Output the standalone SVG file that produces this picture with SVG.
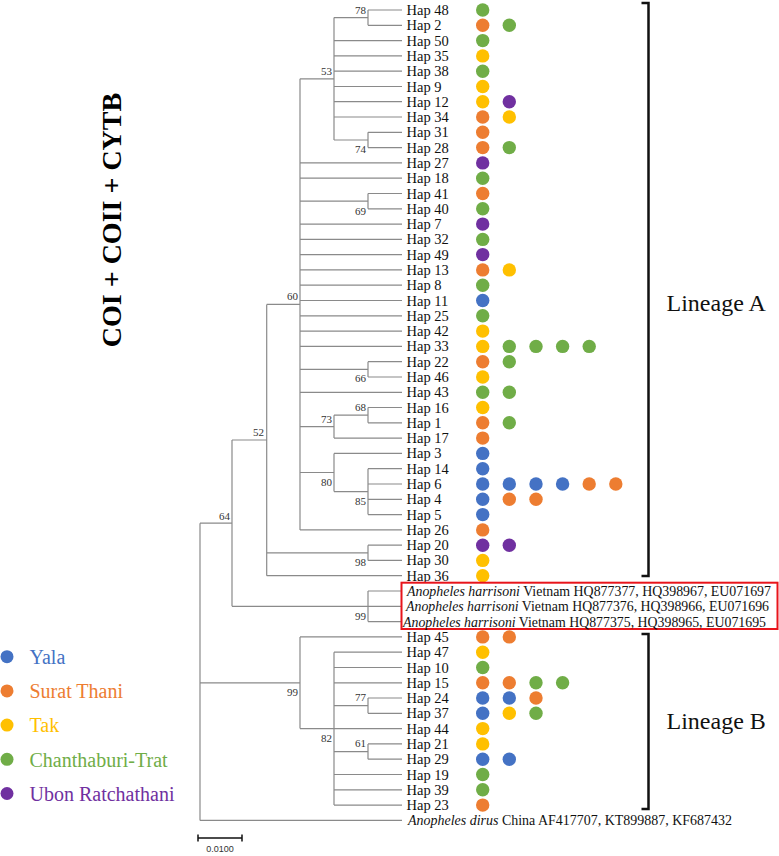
<svg xmlns="http://www.w3.org/2000/svg" width="779" height="856" viewBox="0 0 779 856">
<style>
.br{fill:none;stroke:#8a8a8a;stroke-width:1.2}
.t{font-family:"Liberation Serif","Times New Roman",serif;font-size:14.5px;fill:#111}
.i{font-style:italic}
.bs{font-family:"Liberation Serif","Times New Roman",serif;font-size:11px;fill:#333;text-anchor:end}
.Y{fill:#4472C4}.S{fill:#ED7D31}.T{fill:#FFC000}.C{fill:#70AD47}.U{fill:#7030A0}
.lg{font-family:"Liberation Serif","Times New Roman",serif;font-size:20px}
.bk{fill:none;stroke:#111;stroke-width:2.5}
.ln{font-family:"Liberation Serif","Times New Roman",serif;font-size:24px;fill:#111}
</style>
<rect width="779" height="856" fill="#fff"/>
<text transform="translate(121,220) rotate(-90)" text-anchor="middle" style="font-family:'Liberation Serif','Times New Roman',serif;font-size:28px;font-weight:bold;fill:#000">COI + COII + CYTB</text>
<g id="connectors">
<path class="br" d="M368,10V25.3M368,10H402M368,25.3H402M334,17.6H368
M334,17.6V140M334,40.6H402M334,55.9H402M334,71.2H402M334,86.5H402M334,101.7H402M334,117H402
M368,132.3V147.6M368,132.3H402M368,147.6H402M334,140H368
M300,78.8H334M300,78.8V529.9
M300,162.9H402M300,178.2H402M300,224.1H402M300,239.4H402M300,254.6H402M300,269.9H402M300,285.2H402M300,300.5H402M300,315.8H402M300,331.1H402M300,346.4H402M300,392.3H402M300,529.9H402
M368,193.5V208.8M368,193.5H402M368,208.8H402M300,201.1H368
M368,361.7V377M368,361.7H402M368,377H402M300,369.3H368
M368,407.5V422.8M368,407.5H402M368,422.8H402M334,415.2H368
M334,415.2V438.1M334,438.1H402M300,426.7H334
M368,468.7V514.6M368,468.7H402M368,484H402M368,499.3H402M368,514.6H402M334,491.6H368
M334,453.4V491.6M334,453.4H402M300,472.5H334
M266.7,304.4H300
M368,545.2V560.4M368,545.2H402M368,560.4H402M266.7,552.8H368
M266.7,575.7H402M266.7,304.4V575.7M232,440H266.7
M368,591V621.6M368,591H402M368,606.3H402M368,621.6H402M232,606.3H368
M232,440V606.3M200,523.2H232
M368,698V713.3M368,698H402M368,713.3H402M334,705.7H368
M368,743.9V759.2M368,743.9H402M368,759.2H402M334,751.6H368
M334,652.2V805.1M334,652.2H402M334,667.5H402M334,682.8H402M334,774.5H402M334,789.8H402M334,805.1H402
M300,728.6H402M300,636.9H402M300,636.9V728.6M200,682.8H300
M200,523.2V820.4M200,820.4H402"/>
</g>
<g id="bootstrap">
<text class="bs" x="366" y="14">78</text>
<text class="bs" x="332" y="75">53</text>
<text class="bs" x="366" y="153">74</text>
<text class="bs" x="366" y="215">69</text>
<text class="bs" x="298" y="300">60</text>
<text class="bs" x="366" y="382">66</text>
<text class="bs" x="366" y="411">68</text>
<text class="bs" x="332" y="423">73</text>
<text class="bs" x="332" y="486">80</text>
<text class="bs" x="366" y="505">85</text>
<text class="bs" x="264" y="436">52</text>
<text class="bs" x="230" y="520">64</text>
<text class="bs" x="366" y="566">98</text>
<text class="bs" x="366" y="620">99</text>
<text class="bs" x="298" y="696">99</text>
<text class="bs" x="366" y="701">77</text>
<text class="bs" x="332" y="742">82</text>
<text class="bs" x="366" y="747">61</text>
</g>
<g id="hap48"><text class="t" x="406.5" y="15">Hap 48</text><circle class="C" cx="482.7" cy="10" r="6.7"/></g>
<g id="hap2"><text class="t" x="406.5" y="30.3">Hap 2</text><circle class="S" cx="482.7" cy="25.3" r="6.7"/><circle class="C" cx="509.3" cy="25.3" r="6.7"/></g>
<g id="hap50"><text class="t" x="406.5" y="45.6">Hap 50</text><circle class="C" cx="482.7" cy="40.6" r="6.7"/></g>
<g id="hap35"><text class="t" x="406.5" y="60.9">Hap 35</text><circle class="T" cx="482.7" cy="55.9" r="6.7"/></g>
<g id="hap38"><text class="t" x="406.5" y="76.2">Hap 38</text><circle class="C" cx="482.7" cy="71.2" r="6.7"/></g>
<g id="hap9"><text class="t" x="406.5" y="91.5">Hap 9</text><circle class="T" cx="482.7" cy="86.5" r="6.7"/></g>
<g id="hap12"><text class="t" x="406.5" y="106.7">Hap 12</text><circle class="T" cx="482.7" cy="101.7" r="6.7"/><circle class="U" cx="509.3" cy="101.7" r="6.7"/></g>
<g id="hap34"><text class="t" x="406.5" y="122">Hap 34</text><circle class="S" cx="482.7" cy="117" r="6.7"/><circle class="T" cx="509.3" cy="117" r="6.7"/></g>
<g id="hap31"><text class="t" x="406.5" y="137.3">Hap 31</text><circle class="S" cx="482.7" cy="132.3" r="6.7"/></g>
<g id="hap28"><text class="t" x="406.5" y="152.6">Hap 28</text><circle class="S" cx="482.7" cy="147.6" r="6.7"/><circle class="C" cx="509.3" cy="147.6" r="6.7"/></g>
<g id="hap27"><text class="t" x="406.5" y="167.9">Hap 27</text><circle class="U" cx="482.7" cy="162.9" r="6.7"/></g>
<g id="hap18"><text class="t" x="406.5" y="183.2">Hap 18</text><circle class="C" cx="482.7" cy="178.2" r="6.7"/></g>
<g id="hap41"><text class="t" x="406.5" y="198.5">Hap 41</text><circle class="S" cx="482.7" cy="193.5" r="6.7"/></g>
<g id="hap40"><text class="t" x="406.5" y="213.8">Hap 40</text><circle class="C" cx="482.7" cy="208.8" r="6.7"/></g>
<g id="hap7"><text class="t" x="406.5" y="229.1">Hap 7</text><circle class="U" cx="482.7" cy="224.1" r="6.7"/></g>
<g id="hap32"><text class="t" x="406.5" y="244.4">Hap 32</text><circle class="C" cx="482.7" cy="239.4" r="6.7"/></g>
<g id="hap49"><text class="t" x="406.5" y="259.6">Hap 49</text><circle class="U" cx="482.7" cy="254.6" r="6.7"/></g>
<g id="hap13"><text class="t" x="406.5" y="274.9">Hap 13</text><circle class="S" cx="482.7" cy="269.9" r="6.7"/><circle class="T" cx="509.3" cy="269.9" r="6.7"/></g>
<g id="hap8"><text class="t" x="406.5" y="290.2">Hap 8</text><circle class="C" cx="482.7" cy="285.2" r="6.7"/></g>
<g id="hap11"><text class="t" x="406.5" y="305.5">Hap 11</text><circle class="Y" cx="482.7" cy="300.5" r="6.7"/></g>
<g id="hap25"><text class="t" x="406.5" y="320.8">Hap 25</text><circle class="C" cx="482.7" cy="315.8" r="6.7"/></g>
<g id="hap42"><text class="t" x="406.5" y="336.1">Hap 42</text><circle class="T" cx="482.7" cy="331.1" r="6.7"/></g>
<g id="hap33"><text class="t" x="406.5" y="351.4">Hap 33</text><circle class="T" cx="482.7" cy="346.4" r="6.7"/><circle class="C" cx="509.3" cy="346.4" r="6.7"/><circle class="C" cx="536" cy="346.4" r="6.7"/><circle class="C" cx="562.6" cy="346.4" r="6.7"/><circle class="C" cx="589.2" cy="346.4" r="6.7"/></g>
<g id="hap22"><text class="t" x="406.5" y="366.7">Hap 22</text><circle class="S" cx="482.7" cy="361.7" r="6.7"/><circle class="C" cx="509.3" cy="361.7" r="6.7"/></g>
<g id="hap46"><text class="t" x="406.5" y="382">Hap 46</text><circle class="T" cx="482.7" cy="377" r="6.7"/></g>
<g id="hap43"><text class="t" x="406.5" y="397.3">Hap 43</text><circle class="C" cx="482.7" cy="392.3" r="6.7"/><circle class="C" cx="509.3" cy="392.3" r="6.7"/></g>
<g id="hap16"><text class="t" x="406.5" y="412.5">Hap 16</text><circle class="T" cx="482.7" cy="407.5" r="6.7"/></g>
<g id="hap1"><text class="t" x="406.5" y="427.8">Hap 1</text><circle class="S" cx="482.7" cy="422.8" r="6.7"/><circle class="C" cx="509.3" cy="422.8" r="6.7"/></g>
<g id="hap17"><text class="t" x="406.5" y="443.1">Hap 17</text><circle class="S" cx="482.7" cy="438.1" r="6.7"/></g>
<g id="hap3"><text class="t" x="406.5" y="458.4">Hap 3</text><circle class="Y" cx="482.7" cy="453.4" r="6.7"/></g>
<g id="hap14"><text class="t" x="406.5" y="473.7">Hap 14</text><circle class="Y" cx="482.7" cy="468.7" r="6.7"/></g>
<g id="hap6"><text class="t" x="406.5" y="489">Hap 6</text><circle class="Y" cx="482.7" cy="484" r="6.7"/><circle class="Y" cx="509.3" cy="484" r="6.7"/><circle class="Y" cx="536" cy="484" r="6.7"/><circle class="Y" cx="562.6" cy="484" r="6.7"/><circle class="S" cx="589.2" cy="484" r="6.7"/><circle class="S" cx="615.8" cy="484" r="6.7"/></g>
<g id="hap4"><text class="t" x="406.5" y="504.3">Hap 4</text><circle class="Y" cx="482.7" cy="499.3" r="6.7"/><circle class="S" cx="509.3" cy="499.3" r="6.7"/><circle class="S" cx="536" cy="499.3" r="6.7"/></g>
<g id="hap5"><text class="t" x="406.5" y="519.6">Hap 5</text><circle class="Y" cx="482.7" cy="514.6" r="6.7"/></g>
<g id="hap26"><text class="t" x="406.5" y="534.9">Hap 26</text><circle class="S" cx="482.7" cy="529.9" r="6.7"/></g>
<g id="hap20"><text class="t" x="406.5" y="550.2">Hap 20</text><circle class="U" cx="482.7" cy="545.2" r="6.7"/><circle class="U" cx="509.3" cy="545.2" r="6.7"/></g>
<g id="hap30"><text class="t" x="406.5" y="565.4">Hap 30</text><circle class="T" cx="482.7" cy="560.4" r="6.7"/></g>
<g id="hap36"><text class="t" x="406.5" y="580.7">Hap 36</text><circle class="T" cx="482.7" cy="575.7" r="6.7"/></g>
<g id="harrisoni">
<rect x="401.5" y="582.7" width="376" height="46.3" fill="#fff" stroke="#e8141b" stroke-width="2"/>
<text class="t" x="407" y="596" textLength="364" lengthAdjust="spacingAndGlyphs"><tspan class="i">Anopheles harrisoni</tspan> Vietnam HQ877377, HQ398967, EU071697</text>
<text class="t" x="406" y="611.3" textLength="363" lengthAdjust="spacingAndGlyphs"><tspan class="i">Anopheles harrisoni</tspan> Vietnam HQ877376, HQ398966, EU071696</text>
<text class="t" x="403" y="626.6" textLength="363" lengthAdjust="spacingAndGlyphs"><tspan class="i">Anopheles harrisoni</tspan> Vietnam HQ877375, HQ398965, EU071695</text>
</g>
<g id="hap45"><text class="t" x="406.5" y="641.9">Hap 45</text><circle class="S" cx="482.7" cy="636.9" r="6.7"/><circle class="S" cx="509.3" cy="636.9" r="6.7"/></g>
<g id="hap47"><text class="t" x="406.5" y="657.2">Hap 47</text><circle class="T" cx="482.7" cy="652.2" r="6.7"/></g>
<g id="hap10"><text class="t" x="406.5" y="672.5">Hap 10</text><circle class="C" cx="482.7" cy="667.5" r="6.7"/></g>
<g id="hap15"><text class="t" x="406.5" y="687.8">Hap 15</text><circle class="S" cx="482.7" cy="682.8" r="6.7"/><circle class="S" cx="509.3" cy="682.8" r="6.7"/><circle class="C" cx="536" cy="682.8" r="6.7"/><circle class="C" cx="562.6" cy="682.8" r="6.7"/></g>
<g id="hap24"><text class="t" x="406.5" y="703">Hap 24</text><circle class="Y" cx="482.7" cy="698" r="6.7"/><circle class="Y" cx="509.3" cy="698" r="6.7"/><circle class="S" cx="536" cy="698" r="6.7"/></g>
<g id="hap37"><text class="t" x="406.5" y="718.3">Hap 37</text><circle class="Y" cx="482.7" cy="713.3" r="6.7"/><circle class="T" cx="509.3" cy="713.3" r="6.7"/><circle class="C" cx="536" cy="713.3" r="6.7"/></g>
<g id="hap44"><text class="t" x="406.5" y="733.6">Hap 44</text><circle class="T" cx="482.7" cy="728.6" r="6.7"/></g>
<g id="hap21"><text class="t" x="406.5" y="748.9">Hap 21</text><circle class="T" cx="482.7" cy="743.9" r="6.7"/></g>
<g id="hap29"><text class="t" x="406.5" y="764.2">Hap 29</text><circle class="Y" cx="482.7" cy="759.2" r="6.7"/><circle class="Y" cx="509.3" cy="759.2" r="6.7"/></g>
<g id="hap19"><text class="t" x="406.5" y="779.5">Hap 19</text><circle class="C" cx="482.7" cy="774.5" r="6.7"/></g>
<g id="hap39"><text class="t" x="406.5" y="794.8">Hap 39</text><circle class="C" cx="482.7" cy="789.8" r="6.7"/></g>
<g id="hap23"><text class="t" x="406.5" y="810.1">Hap 23</text><circle class="S" cx="482.7" cy="805.1" r="6.7"/></g>
<g id="dirus"><text class="t" x="408" y="825.4" textLength="324" lengthAdjust="spacingAndGlyphs"><tspan class="i">Anopheles dirus</tspan> China AF417707, KT899887, KF687432</text></g>
<g id="lineageA"><path class="bk" d="M641.5,3H648.5V576H641.5"/><text class="ln" x="666.5" y="311">Lineage A</text></g>
<g id="lineageB"><path class="bk" d="M641.5,634H648.5V809H641.5"/><text class="ln" x="666.5" y="729">Lineage B</text></g>
<g id="legend">
<circle class="Y" cx="7" cy="656.7" r="6.5"/><text class="lg Y" x="29.5" y="664">Yala</text>
<circle class="S" cx="7" cy="690.9" r="6.5"/><text class="lg S" x="29.5" y="698.2">Surat Thani</text>
<circle class="T" cx="7" cy="725.1" r="6.5"/><text class="lg T" x="29.5" y="732.4">Tak</text>
<circle class="C" cx="7" cy="759.3" r="6.5"/><text class="lg C" x="29.5" y="766.6">Chanthaburi-Trat</text>
<circle class="U" cx="7" cy="793.5" r="6.5"/><text class="lg U" x="29.5" y="800.8">Ubon Ratchathani</text>
</g>
<g id="scalebar">
<path d="M198,838H242M198,834.5V841.5M242,834.5V841.5" fill="none" stroke="#111" stroke-width="1.5"/>
<text x="220" y="852" text-anchor="middle" style="font-family:'Liberation Sans',Arial,sans-serif;font-size:9px;fill:#333">0.0100</text>
</g>
</svg>
